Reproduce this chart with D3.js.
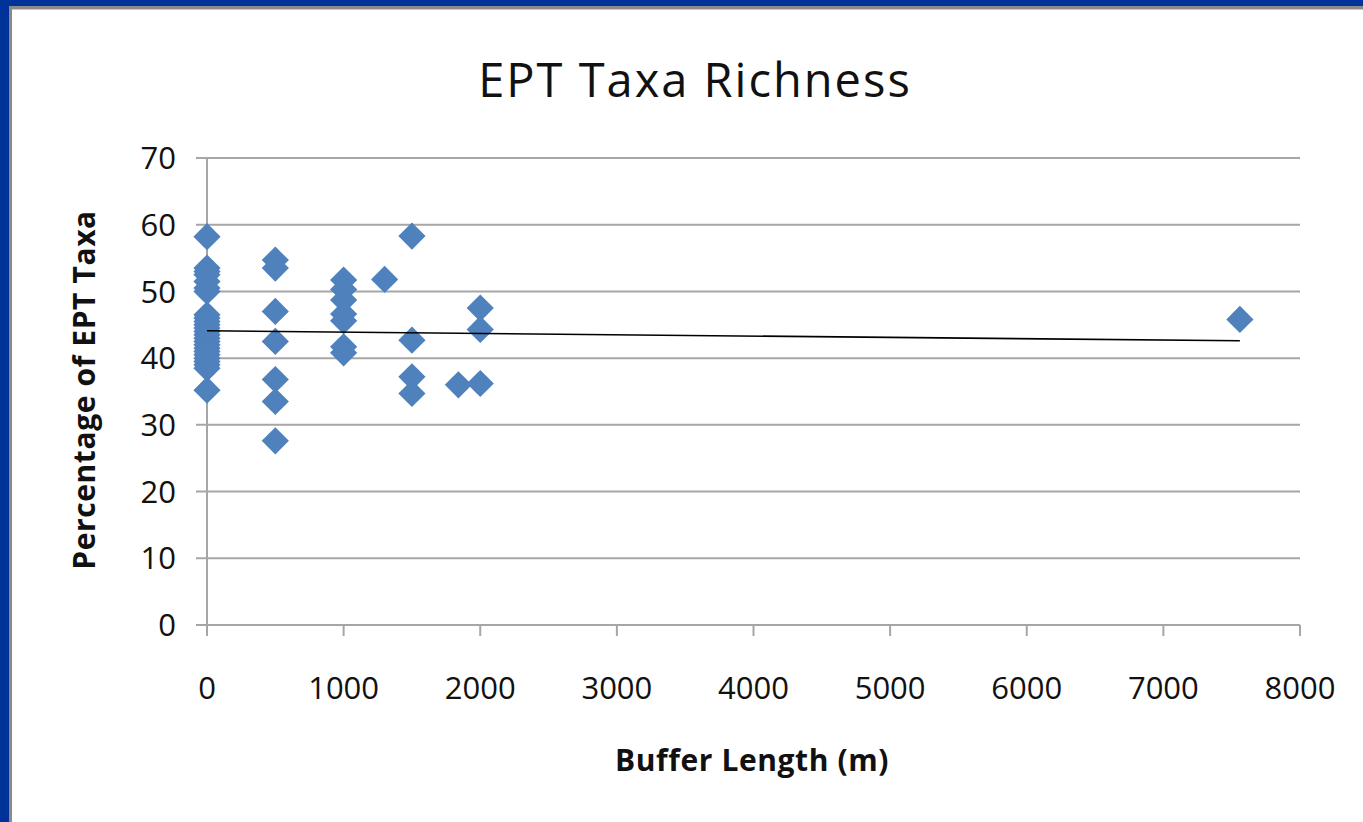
<!DOCTYPE html>
<html>
<head>
<meta charset="utf-8">
<script src="https://cdn.jsdelivr.net/npm/d3@7"></script>
<style>
  body { margin: 0; background: #fff; }
  svg { display: block; }
</style>
</head>
<body>
<div id="chart"></div>
<script>
// buffer length (m) and percentage of EPT taxa
const bufferLength = [
  0, 0, 0, 0, 0, 0, 0, 0, 0, 0, 0, 0, 0, 0, 0, 0, 0, 0, 0, 0, 0, 0, 0, 0, 0,
  500, 500, 500, 500, 500, 500, 500,
  1000, 1000, 1000, 1000, 1000, 1000, 1000,
  1300,
  1500, 1500, 1500, 1500,
  1840,
  2000, 2000, 2000,
  7560
]
const eptPercent = [
  58.2, 53.5, 53, 52.5, 51.5, 50.5, 50, 46.5, 46, 45.5, 45, 44.5, 44, 43.5, 43, 42.5, 42, 41.5, 41, 40.5, 40, 39.5, 39, 38.5, 35.2,
  54.7, 53.5, 47, 42.5, 36.8, 33.5, 27.6,
  51.7, 50.3, 48.7, 46.6, 45.6, 41.7, 40.8,
  51.8,
  58.3, 42.7, 37.2, 34.7,
  36,
  47.5, 44.3, 36.2,
  45.8
]
// linear trend line as drawn in the picture (start and end)
const trendX = [0, 7560]
const trendY = [44.1, 42.6]

const xTicks = [0, 1000, 2000, 3000, 4000, 5000, 6000, 7000, 8000]
const yTicks = [0, 10, 20, 30, 40, 50, 60, 70]

const W = 1363, H = 822
const plotLeft = 207, plotRight = 1300, plotTop = 158, plotBottom = 625
const font = "'Open Sans', sans-serif"

const svg = d3.select("#chart").append("svg")
    .attr("width", W)
    .attr("height", H)

// slide frame
svg.append("rect").attr("x", 0).attr("y", 0).attr("width", W).attr("height", H).attr("fill", "#003399")
svg.append("rect").attr("x", 9).attr("y", 6).attr("width", W - 9).attr("height", H - 6).attr("fill", "#8a8a8a")
svg.append("rect").attr("x", 12).attr("y", 9).attr("width", W - 12).attr("height", H - 9).attr("fill", "#c8c8c8")
svg.append("rect").attr("x", 12).attr("y", 10).attr("width", W - 12).attr("height", H - 10).attr("fill", "#fff")

const x = d3.scaleLinear().domain([0, 8000]).range([plotLeft, plotRight])
const y = d3.scaleLinear().domain([0, 70]).range([plotBottom, plotTop])

// gridlines
svg.append("g")
    .selectAll("line")
    .data(yTicks)
    .join("line")
    .attr("x1", plotLeft - 11)
    .attr("x2", plotRight)
    .attr("y1", d => y(d))
    .attr("y2", d => y(d))
    .attr("stroke", "#a6a6a6")
    .attr("stroke-width", 2)

// vertical axis line
svg.append("line")
    .attr("x1", plotLeft).attr("x2", plotLeft)
    .attr("y1", plotTop).attr("y2", plotBottom + 11)
    .attr("stroke", "#a6a6a6").attr("stroke-width", 2)

// x tick marks
svg.append("g")
    .selectAll("line")
    .data(xTicks)
    .join("line")
    .attr("x1", d => x(d))
    .attr("x2", d => x(d))
    .attr("y1", plotBottom)
    .attr("y2", plotBottom + 11)
    .attr("stroke", "#a6a6a6")
    .attr("stroke-width", 2)

// tick labels
svg.append("g")
    .selectAll("text")
    .data(yTicks)
    .join("text")
    .attr("x", 176)
    .attr("y", d => y(d))
    .attr("dy", "0.36em")
    .attr("text-anchor", "end")
    .attr("font-family", font)
    .attr("font-size", 31)
    .attr("fill", "#111")
    .text(d => d)

svg.append("g")
    .selectAll("text")
    .data(xTicks)
    .join("text")
    .attr("x", d => x(d))
    .attr("y", 688)
    .attr("dy", "0.36em")
    .attr("text-anchor", "middle")
    .attr("font-family", font)
    .attr("font-size", 31)
    .attr("fill", "#111")
    .text(d => d)

// points
const pts = bufferLength.map((b, i) => [b, eptPercent[i]])
const diamond = d3.symbol().type(d3.symbolSquare).size(370)

svg.append("g")
    .selectAll("path")
    .data(pts)
    .join("path")
    .attr("d", diamond)
    .attr("transform", d => `translate(${x(d[0])},${y(d[1])}) rotate(45)`)
    .attr("fill", "#4f81bd")

// trend line
svg.append("line")
    .attr("x1", x(trendX[0])).attr("x2", x(trendX[1]))
    .attr("y1", y(trendY[0])).attr("y2", y(trendY[1]))
    .attr("stroke", "#000")
    .attr("stroke-width", 1.6)

// titles
svg.append("text")
    .attr("x", 695).attr("y", 97)
    .attr("text-anchor", "middle")
    .attr("font-family", font)
    .attr("font-size", 47)
    .attr("letter-spacing", 2)
    .attr("fill", "#111")
    .text("EPT Taxa Richness")

svg.append("text")
    .attr("x", 752).attr("y", 771)
    .attr("text-anchor", "middle")
    .attr("font-family", font)
    .attr("font-weight", "bold")
    .attr("font-size", 30)
    .attr("letter-spacing", 0.6)
    .attr("fill", "#111")
    .text("Buffer Length (m)")

svg.append("text")
    .attr("transform", "translate(95,390) rotate(-90)")
    .attr("text-anchor", "middle")
    .attr("font-family", font)
    .attr("font-weight", "bold")
    .attr("font-size", 30)
    .attr("letter-spacing", 0.6)
    .attr("fill", "#111")
    .text("Percentage of EPT Taxa")
</script>
</body>
</html>
